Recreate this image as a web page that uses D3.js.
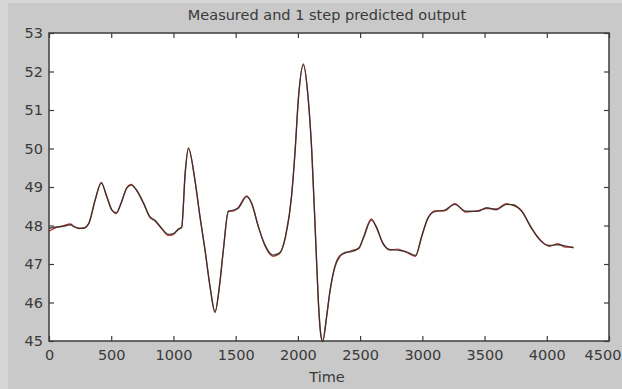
<!DOCTYPE html>
<html>
<head>
<meta charset="utf-8">
<script src="https://cdn.jsdelivr.net/npm/d3@7"></script>
<style>
  html, body { margin: 0; padding: 0; background: #c8c8c8; }
  svg { display: block; }
  text { font-family: "DejaVu Sans", "Liberation Sans", sans-serif; }
</style>
</head>
<body>
<svg id="chart" width="622" height="389"></svg>
<script>
// Sample times of the curve knots
const time = [0, 60, 120, 170, 200, 240, 280, 320, 370, 420, 465, 505, 540, 580, 625, 660, 705, 760, 810, 850,
  905, 960, 1000, 1040, 1066, 1095, 1120, 1173, 1213, 1254, 1294, 1334, 1369, 1401, 1441, 1481, 1521, 1588, 1629, 1682,
  1736, 1800, 1850, 1900, 1950, 1977, 2004, 2044, 2084, 2111, 2146, 2164, 2183, 2199, 2231, 2258, 2298, 2338, 2379, 2432,
  2490, 2526, 2590, 2630, 2680, 2735, 2800, 2870, 2945, 2995, 3045, 3100, 3180, 3260, 3350, 3450, 3515, 3595, 3675, 3730,
  3800, 3875, 3945, 4020, 4090, 4145, 4215];

// Measured output
const measured = [47.93, 47.96, 47.98, 48.02, 47.97, 47.93, 47.93, 48.06, 48.66, 49.10, 48.75, 48.40, 48.33, 48.58, 48.97, 49.05, 48.92, 48.58, 48.23, 48.14,
  47.93, 47.77, 47.79, 47.90, 47.95, 49.40, 50.00, 49.18, 48.23, 47.36, 46.41, 45.76, 46.41, 47.36, 48.36, 48.40, 48.45, 48.75, 48.58, 47.97,
  47.49, 47.23, 47.28, 47.70, 48.80, 49.90, 51.30, 52.17, 51.26, 49.96, 47.40, 46.06, 45.20, 45.00, 45.63, 46.30, 46.93, 47.20, 47.30, 47.32,
  47.42, 47.67, 48.14, 47.97, 47.55, 47.38, 47.36, 47.32, 47.22, 47.71, 48.20, 48.36, 48.40, 48.55, 48.37, 48.37, 48.46, 48.41, 48.55, 48.54,
  48.36, 47.95, 47.62, 47.48, 47.50, 47.47, 47.42];

// One step ahead prediction
const predicted = [47.85, 47.95, 48.00, 48.04, 47.98, 47.92, 47.94, 48.05, 48.64, 49.12, 48.73, 48.41, 48.31, 48.60, 48.98, 49.07, 48.90, 48.57, 48.21, 48.12,
  47.92, 47.74, 47.77, 47.91, 47.96, 49.38, 50.02, 49.16, 48.24, 47.35, 46.42, 45.74, 46.40, 47.37, 48.38, 48.37, 48.47, 48.77, 48.56, 47.98,
  47.47, 47.20, 47.26, 47.72, 48.79, 49.92, 51.28, 52.20, 51.24, 49.98, 47.38, 46.05, 45.18, 44.98, 45.65, 46.29, 46.95, 47.22, 47.28, 47.35,
  47.40, 47.69, 48.17, 47.95, 47.57, 47.36, 47.39, 47.30, 47.20, 47.73, 48.18, 48.38, 48.38, 48.57, 48.35, 48.39, 48.44, 48.43, 48.57, 48.52,
  48.38, 47.93, 47.64, 47.46, 47.53, 47.44, 47.44];

const xTicks = [0, 500, 1000, 1500, 2000, 2500, 3000, 3500, 4000, 4500];
const yTicks = [45, 46, 47, 48, 49, 50, 51, 52, 53];
const titleText = "Measured and 1 step predicted output";
const xLabel = "Time";

const svg = d3.select("#chart");
const W = 622, H = 389;
const m = { left: 49, right: 13, top: 33, bottom: 48 };

// figure background with lighter edge strips
svg.append("rect").attr("x", 0).attr("y", 0).attr("width", W).attr("height", H).attr("fill", "#d6d6d6");
svg.append("rect").attr("x", 8).attr("y", 3).attr("width", W - 8).attr("height", H - 3).attr("fill", "#c9c9c9");

const x = d3.scaleLinear().domain([0, 4500]).range([m.left, W - m.right]);
const y = d3.scaleLinear().domain([45, 53]).range([H - m.bottom, m.top]);

// white plot area
svg.append("rect")
  .attr("x", x(0)).attr("y", y(53))
  .attr("width", x(4500) - x(0)).attr("height", y(45) - y(53))
  .attr("fill", "#ffffff");

const pts = (vals) => time.map((t, i) => [t, vals[i]]);
const line = d3.line().x(d => x(d[0])).y(d => y(d[1])).curve(d3.curveMonotoneX);

const plot = svg.append("g");
plot.append("path").datum(pts(predicted))
  .attr("d", line).attr("fill", "none")
  .attr("stroke", "#c0392b").attr("stroke-width", 1.2);
plot.append("path").datum(pts(measured))
  .attr("d", line).attr("fill", "none")
  .attr("stroke", "#2a2a2a").attr("stroke-width", 1.4).attr("stroke-opacity", 0.85);

// axes with inward ticks on all four sides
const axisColor = "#3c3c3c";
const styleAxis = g => {
  g.select(".domain").remove();
  g.selectAll(".tick line").attr("stroke", axisColor).attr("stroke-width", 1.2);
  g.selectAll(".tick text").attr("fill", "#3a3a3a").style("font-size", "14.5px");
};

const xAxisG = svg.append("g").attr("transform", `translate(0,${y(45)})`)
  .call(d3.axisBottom(x).tickValues(xTicks).tickFormat(d3.format("d")).tickSizeInner(-5).tickSizeOuter(0).tickPadding(9))
  .call(styleAxis);
// keep the last tick label inside the figure edge
xAxisG.selectAll(".tick text")
  .filter(d => d === xTicks[xTicks.length - 1])
  .attr("text-anchor", "end")
  .attr("x", W - 1 - x(xTicks[xTicks.length - 1]));

svg.append("g").attr("transform", `translate(0,${y(53)})`)
  .call(d3.axisTop(x).tickValues(xTicks).tickFormat("").tickSizeInner(-5).tickSizeOuter(0))
  .call(styleAxis);
svg.append("g").attr("transform", `translate(${x(0)},0)`)
  .call(d3.axisLeft(y).tickValues(yTicks).tickFormat(d3.format("d")).tickSizeInner(-5).tickSizeOuter(0).tickPadding(6))
  .call(styleAxis);
svg.append("g").attr("transform", `translate(${x(4500)},0)`)
  .call(d3.axisRight(y).tickValues(yTicks).tickFormat("").tickSizeInner(-5).tickSizeOuter(0))
  .call(styleAxis);

// axes box
svg.append("rect")
  .attr("x", x(0)).attr("y", y(53))
  .attr("width", x(4500) - x(0)).attr("height", y(45) - y(53))
  .attr("fill", "none").attr("stroke", axisColor).attr("stroke-width", 1.5);

svg.append("text")
  .attr("x", 327).attr("y", 20)
  .attr("text-anchor", "middle").attr("fill", "#3a3a3a").style("font-size", "14.5px")
  .text(titleText);

svg.append("text")
  .attr("x", 327).attr("y", 382)
  .attr("text-anchor", "middle").attr("fill", "#3a3a3a").style("font-size", "14.5px")
  .text(xLabel);
</script>
</body>
</html>
